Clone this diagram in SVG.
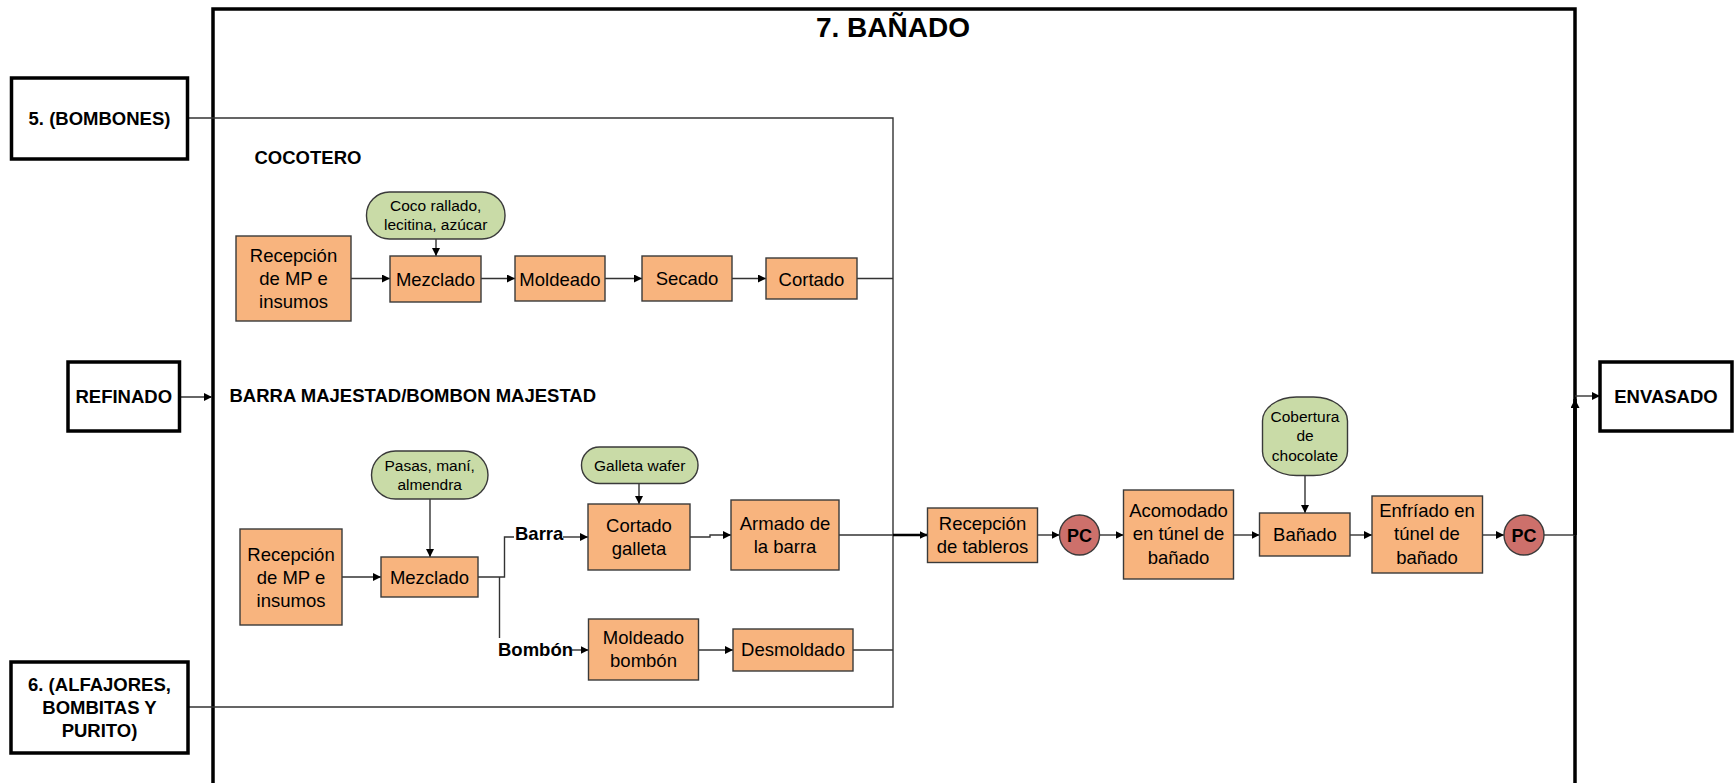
<svg xmlns="http://www.w3.org/2000/svg" width="1734" height="783" viewBox="0 0 1734 783">
  <defs>
    <style>
      .frame { fill: none; stroke: #000; stroke-width: 3.5; }
      .ext { fill: #fff; stroke: #000; stroke-width: 3.5; }
      .ext-t { font-family: "Liberation Sans", Arial, sans-serif; font-weight: bold; font-size: 18.5px; fill: #000; text-anchor: middle; }
      .lbl { font-family: "Liberation Sans", Arial, sans-serif; font-weight: bold; font-size: 18.5px; fill: #000; }
      .title { font-family: "Liberation Sans", Arial, sans-serif; font-weight: bold; font-size: 28px; fill: #000; text-anchor: middle; }
      .proc { fill: #F8B47E; stroke: #3a3a3a; stroke-width: 1.4; }
      .proc-t { font-family: "Liberation Sans", Arial, sans-serif; font-size: 18.5px; fill: #000; text-anchor: middle; }
      .inp { fill: #C9DBA7; stroke: #3a3a3a; stroke-width: 1.4; }
      .inp-t { font-family: "Liberation Sans", Arial, sans-serif; font-size: 15.5px; fill: #000; text-anchor: middle; }
      .pc { fill: #CD706B; stroke: #3a3a3a; stroke-width: 1.4; }
      .pc-t { font-family: "Liberation Sans", Arial, sans-serif; font-weight: bold; font-size: 18px; fill: #000; text-anchor: middle; }
      .ln { fill: none; stroke: #333; stroke-width: 1.4; }
      .arr { fill: none; stroke: #333; stroke-width: 1.4; marker-end: url(#ah); }
      .arr-bold { fill: none; stroke: #000; stroke-width: 2.4; marker-end: url(#ah); }
      .ln-bold { fill: none; stroke: #000; stroke-width: 3.5; }
    </style>
    <marker id="ah" viewBox="0 0 10 10" refX="10" refY="5" markerWidth="8" markerHeight="8" markerUnits="userSpaceOnUse" orient="auto">
      <path d="M0,0 L10,5 L0,10 z" fill="#000"/>
    </marker>
    <marker id="ahl" viewBox="0 0 10 10" refX="10" refY="5" markerWidth="9" markerHeight="9" markerUnits="userSpaceOnUse" orient="auto">
      <path d="M0,0 L10,5 L0,10 z" fill="#000"/>
    </marker>
  </defs>

  <rect width="1734" height="783" fill="#fff"/>

  <!-- Stage frame -->
  <g id="stage">
    <rect class="frame" x="213" y="9" width="1362" height="800"/>
    <text class="title" x="893" y="37">7. BAÑADO</text>
    <text class="lbl" x="254.5" y="164">COCOTERO</text>
    <text class="lbl" x="229.5" y="402">BARRA MAJESTAD/BOMBON MAJESTAD</text>
  </g>

  <!-- Connectors -->
  <g id="connectors">
    <!-- external feeds into the collector line -->
    <path class="ln" d="M187.5,118 H893 V707 H188.5"/>
    <path class="arr" d="M179.5,397 H212"/>

    <!-- Cocotero line -->
    <path class="arr" d="M351,278.5 H390"/>
    <path class="arr" d="M481,278.5 H515"/>
    <path class="arr" d="M605,278.5 H642"/>
    <path class="arr" d="M732,278.5 H766"/>
    <path class="arr" d="M436,239 V256"/>
    <path class="ln" d="M857,278.5 H893"/>

    <!-- Barra / Bombón line -->
    <path class="arr" d="M430,499 V557"/>
    <path class="arr" d="M342,577 H381"/>
    <path class="ln" d="M478,577 H504.5 V537 H514"/>
    <path class="ln" d="M499.5,577 V638"/>
    <path class="arr" d="M563,537 H588"/>
    <path class="arr" d="M572,650 H588.5"/>
    <path class="arr" d="M639,483 V504"/>
    <path class="arr" d="M689.5,537 H710 V535 H731"/>
    <path class="arr" d="M698.5,650 H733"/>
    <path class="ln" d="M839,535 H893"/>
    <path class="ln" d="M853,650 H893"/>
    <path class="arr-bold" d="M893,535 H927.5"/>

    <!-- Bañado line -->
    <path class="arr" d="M1037.5,535 H1059.5"/>
    <path class="arr" d="M1099.5,535 H1123.5"/>
    <path class="arr" d="M1233.5,535 H1259.5"/>
    <path class="arr" d="M1305,475.5 V513"/>
    <path class="arr" d="M1350,535 H1372"/>
    <path class="arr" d="M1482.5,535 H1504"/>
    <path class="ln" d="M1544,535 H1575"/>
    <path class="ln-bold" d="M1575,535 V399" marker-end="url(#ahl)"/>
    <path class="arr" d="M1575,396 H1600"/>
  </g>

  <!-- External stages -->
  <g id="n-bombones">
    <rect class="ext" x="11.5" y="78" width="176" height="81"/>
    <text class="ext-t" x="99.5" y="124.5">5. (BOMBONES)</text>
  </g>
  <g id="n-refinado">
    <rect class="ext" x="68" y="362" width="111.5" height="69"/>
    <text class="ext-t" x="123.8" y="402.5">REFINADO</text>
  </g>
  <g id="n-alfajores">
    <rect class="ext" x="11" y="662" width="177" height="91"/>
    <text class="ext-t" x="99.5" y="690.5">6. (ALFAJORES,</text>
    <text class="ext-t" x="99.5" y="713.5">BOMBITAS Y</text>
    <text class="ext-t" x="99.5" y="737">PURITO)</text>
  </g>
  <g id="n-envasado">
    <rect class="ext" x="1600" y="362" width="132" height="69"/>
    <text class="ext-t" x="1666" y="402.5">ENVASADO</text>
  </g>

  <!-- Cocotero -->
  <g id="n-coco-insumos">
    <rect class="inp" x="366.5" y="192" width="138.5" height="47" rx="23" ry="23"/>
    <text class="inp-t" x="435.7" y="211">Coco rallado,</text>
    <text class="inp-t" x="435.7" y="229.5">lecitina, azúcar</text>
  </g>
  <g id="n-coco-recepcion">
    <rect class="proc" x="236" y="236" width="115" height="85"/>
    <text class="proc-t" x="293.5" y="262">Recepción</text>
    <text class="proc-t" x="293.5" y="285">de MP e</text>
    <text class="proc-t" x="293.5" y="308">insumos</text>
  </g>
  <g id="n-coco-mezclado">
    <rect class="proc" x="390" y="256" width="91" height="46"/>
    <text class="proc-t" x="435.5" y="285.5">Mezclado</text>
  </g>
  <g id="n-coco-moldeado">
    <rect class="proc" x="515" y="256" width="90" height="45"/>
    <text class="proc-t" x="560" y="285.5">Moldeado</text>
  </g>
  <g id="n-coco-secado">
    <rect class="proc" x="642" y="256" width="90" height="45"/>
    <text class="proc-t" x="687" y="285">Secado</text>
  </g>
  <g id="n-coco-cortado">
    <rect class="proc" x="766" y="258" width="91" height="41"/>
    <text class="proc-t" x="811.5" y="285.5">Cortado</text>
  </g>

  <!-- Barra / Bombón Majestad -->
  <g id="n-maj-insumos">
    <rect class="inp" x="371.5" y="451" width="116.5" height="48" rx="24" ry="24"/>
    <text class="inp-t" x="429.7" y="471">Pasas, maní,</text>
    <text class="inp-t" x="429.7" y="489.5">almendra</text>
  </g>
  <g id="n-maj-recepcion">
    <rect class="proc" x="240" y="529" width="102" height="96"/>
    <text class="proc-t" x="291" y="561">Recepción</text>
    <text class="proc-t" x="291" y="584">de MP e</text>
    <text class="proc-t" x="291" y="607">insumos</text>
  </g>
  <g id="n-maj-mezclado">
    <rect class="proc" x="381" y="557" width="97" height="40"/>
    <text class="proc-t" x="429.5" y="583.5">Mezclado</text>
  </g>
  <g id="n-lbl-barra">
    <text class="lbl" x="515" y="539.5">Barra</text>
  </g>
  <g id="n-lbl-bombon">
    <text class="lbl" x="498" y="656">Bombón</text>
  </g>
  <g id="n-galleta">
    <rect class="inp" x="581.5" y="447" width="116.5" height="36.5" rx="18" ry="18"/>
    <text class="inp-t" x="639.7" y="470.5">Galleta wafer</text>
  </g>
  <g id="n-cortado-galleta">
    <rect class="proc" x="588" y="504" width="102" height="66"/>
    <text class="proc-t" x="639" y="532">Cortado</text>
    <text class="proc-t" x="639" y="554.5">galleta</text>
  </g>
  <g id="n-armado">
    <rect class="proc" x="731" y="500" width="108" height="70"/>
    <text class="proc-t" x="785" y="530">Armado de</text>
    <text class="proc-t" x="785" y="553">la barra</text>
  </g>
  <g id="n-moldeado-bombon">
    <rect class="proc" x="588.5" y="619" width="110" height="61"/>
    <text class="proc-t" x="643.5" y="644">Moldeado</text>
    <text class="proc-t" x="643.5" y="667">bombón</text>
  </g>
  <g id="n-desmoldado">
    <rect class="proc" x="733" y="629" width="120" height="42"/>
    <text class="proc-t" x="793" y="656">Desmoldado</text>
  </g>

  <!-- Bañado line -->
  <g id="n-recepcion-tableros">
    <rect class="proc" x="927.5" y="508" width="110" height="54.5"/>
    <text class="proc-t" x="982.5" y="529.5">Recepción</text>
    <text class="proc-t" x="982.5" y="552.5">de tableros</text>
  </g>
  <g id="n-pc1">
    <circle class="pc" cx="1079.5" cy="535" r="20"/>
    <text class="pc-t" x="1079.5" y="541.5">PC</text>
  </g>
  <g id="n-acomodado">
    <rect class="proc" x="1123.5" y="490" width="110" height="89"/>
    <text class="proc-t" x="1178.5" y="517">Acomodado</text>
    <text class="proc-t" x="1178.5" y="540">en túnel de</text>
    <text class="proc-t" x="1178.5" y="563.5">bañado</text>
  </g>
  <g id="n-cobertura">
    <rect class="inp" x="1262.5" y="397" width="85" height="78.5" rx="34" ry="24"/>
    <text class="inp-t" x="1305" y="421.5">Cobertura</text>
    <text class="inp-t" x="1305" y="441">de</text>
    <text class="inp-t" x="1305" y="460.5">chocolate</text>
  </g>
  <g id="n-banado">
    <rect class="proc" x="1259.5" y="513" width="90.5" height="43"/>
    <text class="proc-t" x="1305" y="540.5">Bañado</text>
  </g>
  <g id="n-enfriado">
    <rect class="proc" x="1372" y="496" width="110.5" height="77"/>
    <text class="proc-t" x="1427" y="517">Enfríado en</text>
    <text class="proc-t" x="1427" y="540">túnel de</text>
    <text class="proc-t" x="1427" y="563.5">bañado</text>
  </g>
  <g id="n-pc2">
    <circle class="pc" cx="1524" cy="535" r="20"/>
    <text class="pc-t" x="1524" y="541.5">PC</text>
  </g>
</svg>
